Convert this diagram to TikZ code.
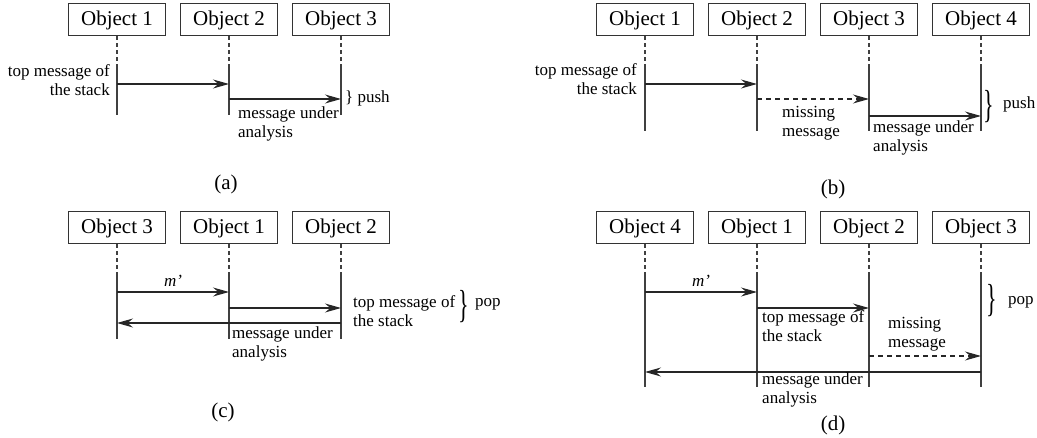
\documentclass[tikz,border=0pt]{standalone}
\usepackage{fontspec}
\usepackage{graphicx}
\setmainfont{Liberation Serif}
\usetikzlibrary{arrows.meta}
% a tall brace made from the text font's own glyph
\newcommand{\tallbrace}{\scalebox{1.3}[2.3]{\}}}
\begin{document}
\begin{tikzpicture}[x=1pt,y=-1pt,
  object/.style={draw=black!80,line width=1pt,minimum width=97pt,minimum height=32pt,
    inner sep=0pt,font=\fontsize{21}{24}\selectfont},
  lbl/.style={inner sep=0pt,font=\fontsize{17}{19}\selectfont},
  caption/.style={inner sep=0pt,font=\fontsize{21}{24}\selectfont},
  life/.style={draw=black!75,line width=1.2pt},
  lifedash/.style={life,dash pattern=on 4pt off 3pt},
  msg/.style={draw=black!85,line width=1.1pt,-{Stealth[length=16pt,width=9pt,inset=5.5pt]}},
  lost/.style={msg,dash pattern=on 5pt off 4pt},
  bigbrace/.style={inner sep=0pt,font=\fontsize{17}{19}\selectfont},
]
\useasboundingbox (0,0) rectangle (1037,438);

% ---------- (a) push ----------
\node[object] (a1) at (117,20) {Object 1};
\node[object] (a2) at (229,20) {Object 2};
\node[object] (a3) at (341,20) {Object 3};
\foreach \o in {a1,a2,a3}{
  \draw[lifedash] (\o.south) -- (\o |- 0,68);
  \draw[life] (\o |- 0,68) -- (\o |- 0,115);
}
\draw[msg] (a1 |- 0,84) -- (a2 |- 0,84);
\draw[msg] (a2 |- 0,99) -- (a3 |- 0,99);
\node[lbl,align=right,anchor=base east] (atop) at (110,96) {top message of\\the stack};
\node[lbl,align=left,anchor=base west] (aana) at (238,138) {message under\\analysis};
\node[lbl,anchor=base west] (apush) at (345,103) {\} push};
\node[caption] (acap) at (226,184) {(a)};

% ---------- (b) push with a missing message ----------
\node[object] (b1) at (645,20) {Object 1};
\node[object] (b2) at (757,20) {Object 2};
\node[object] (b3) at (869,20) {Object 3};
\node[object] (b4) at (981,20) {Object 4};
\foreach \o in {b1,b2,b3,b4}{
  \draw[lifedash] (\o.south) -- (\o |- 0,68);
  \draw[life] (\o |- 0,68) -- (\o |- 0,131);
}
\draw[msg] (b1 |- 0,84) -- (b2 |- 0,84);
\draw[lost] (b2 |- 0,99) -- (b3 |- 0,99);
\draw[msg] (b3 |- 0,116) -- (b4 |- 0,116);
\node[lbl,align=right,anchor=base east] (btop) at (637,95) {top message of\\the stack};
\node[lbl,align=left,anchor=base west] (bmiss) at (782,137) {missing\\message};
\node[lbl,align=left,anchor=base west] (bana) at (873,152) {message under\\analysis};
\node[bigbrace] (bbrace) at (989,106.5) {\tallbrace};
\node[lbl,anchor=base west] (bpush) at (1003,109) {push};
\node[caption] (bcap) at (833,189) {(b)};

% ---------- (c) pop ----------
\node[object] (c3) at (117,228) {Object 3};
\node[object] (c1) at (229,228) {Object 1};
\node[object] (c2) at (341,228) {Object 2};
\foreach \o in {c3,c1,c2}{
  \draw[lifedash] (\o.south) -- (\o |- 0,275);
  \draw[life] (\o |- 0,275) -- (\o |- 0,339);
}
\draw[msg] (c3 |- 0,292) -- node[lbl,above=5pt] (cm) {\textit{m’}} (c1 |- 0,292);
\draw[msg] (c1 |- 0,308) -- (c2 |- 0,308);
\draw[msg] (c2 |- 0,323) -- (c3 |- 0,323);
\node[lbl,align=left,anchor=base west] (ctop) at (353,327) {top message of\\the stack};
\node[lbl,align=left,anchor=base west] (cana) at (232,358) {message under\\analysis};
\node[bigbrace] (cbrace) at (464,307) {\tallbrace};
\node[lbl,anchor=base west] (cpop) at (475,307) {pop};
\node[caption] (ccap) at (223,412) {(c)};

% ---------- (d) pop with a missing message ----------
\node[object] (d4) at (645,228) {Object 4};
\node[object] (d1) at (757,228) {Object 1};
\node[object] (d2) at (869,228) {Object 2};
\node[object] (d3) at (981,228) {Object 3};
\foreach \o in {d4,d1,d2,d3}{
  \draw[lifedash] (\o.south) -- (\o |- 0,276);
  \draw[life] (\o |- 0,276) -- (\o |- 0,387);
}
\draw[msg] (d4 |- 0,292) -- node[lbl,above=5pt] (dm) {\textit{m’}} (d1 |- 0,292);
\draw[msg] (d1 |- 0,308) -- (d2 |- 0,308);
\draw[lost] (d2 |- 0,356) -- (d3 |- 0,356);
\draw[msg] (d3 |- 0,372) -- (d4 |- 0,372);
\node[lbl,align=left,anchor=base west] (dtop) at (762,342) {top message of\\the stack};
\node[lbl,align=left,anchor=base west] (dmiss) at (888,348) {missing\\message};
\node[lbl,align=left,anchor=base west] (dana) at (762,404) {message under\\analysis};
\node[bigbrace] (dbrace) at (992,301) {\tallbrace};
\node[lbl,anchor=base west] (dpop) at (1008,305) {pop};
\node[caption] (dcap) at (833,425) {(d)};
\end{tikzpicture}
\end{document}
